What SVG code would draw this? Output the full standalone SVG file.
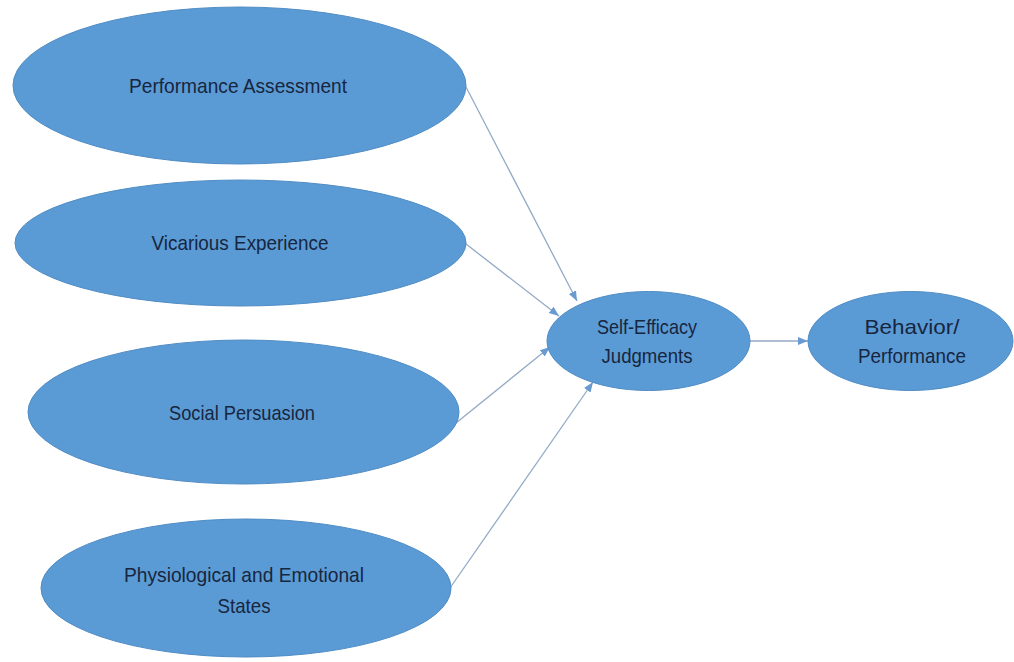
<svg xmlns="http://www.w3.org/2000/svg" width="1014" height="662" viewBox="0 0 1014 662">
<defs>
<style>
.node ellipse{fill:#5b9bd5;stroke:#4f8cc4;stroke-width:1}
.node text{font-family:"Liberation Sans",Arial,sans-serif;font-size:21px;fill:#17263f;text-anchor:middle}
.conn line{stroke:#93aac6;stroke-width:1.3;fill:none}
</style>
<marker id="arr" markerUnits="userSpaceOnUse" markerWidth="10" markerHeight="10" viewBox="0 0 10 10" refX="10" refY="5" orient="auto">
<path d="M0,1 L10,5 L0,9 Z" fill="#6a9bd0"/>
</marker>
</defs>
<rect width="1014" height="662" fill="#ffffff"/>
<g id="connectors" class="conn">
<line x1="466" y1="87" x2="577" y2="301" marker-end="url(#arr)"/>
<line x1="466" y1="244" x2="559" y2="316" marker-end="url(#arr)"/>
<line x1="456" y1="423" x2="550" y2="347" marker-end="url(#arr)"/>
<line x1="450" y1="588" x2="593" y2="382" marker-end="url(#arr)"/>
<line x1="750" y1="341" x2="808" y2="341" marker-end="url(#arr)"/>
</g>
<g id="performance-assessment" class="node">
<ellipse cx="239.5" cy="85.5" rx="226.5" ry="78.5"/>
<text x="238" y="93" textLength="218" lengthAdjust="spacingAndGlyphs">Performance Assessment</text>
</g>
<g id="vicarious-experience" class="node">
<ellipse cx="240.5" cy="243" rx="225.5" ry="63"/>
<text x="240" y="250" textLength="177" lengthAdjust="spacingAndGlyphs">Vicarious Experience</text>
</g>
<g id="social-persuasion" class="node">
<ellipse cx="243.5" cy="412" rx="215.5" ry="72"/>
<text x="242" y="420" textLength="146" lengthAdjust="spacingAndGlyphs">Social Persuasion</text>
</g>
<g id="physiological-states" class="node">
<ellipse cx="246" cy="588" rx="205" ry="69"/>
<text x="244" y="582" textLength="240" lengthAdjust="spacingAndGlyphs">Physiological and Emotional</text>
<text x="244" y="613" textLength="53" lengthAdjust="spacingAndGlyphs">States</text>
</g>
<g id="self-efficacy" class="node">
<ellipse cx="648.5" cy="341" rx="101.5" ry="49.5"/>
<text x="647" y="334" textLength="100" lengthAdjust="spacingAndGlyphs">Self-Efficacy</text>
<text x="647" y="363" textLength="91" lengthAdjust="spacingAndGlyphs">Judgments</text>
</g>
<g id="behavior-performance" class="node">
<ellipse cx="910.5" cy="341" rx="102.5" ry="49.5"/>
<text x="912" y="334" textLength="95" lengthAdjust="spacingAndGlyphs">Behavior/</text>
<text x="912" y="363" textLength="108" lengthAdjust="spacingAndGlyphs">Performance</text>
</g>
</svg>
